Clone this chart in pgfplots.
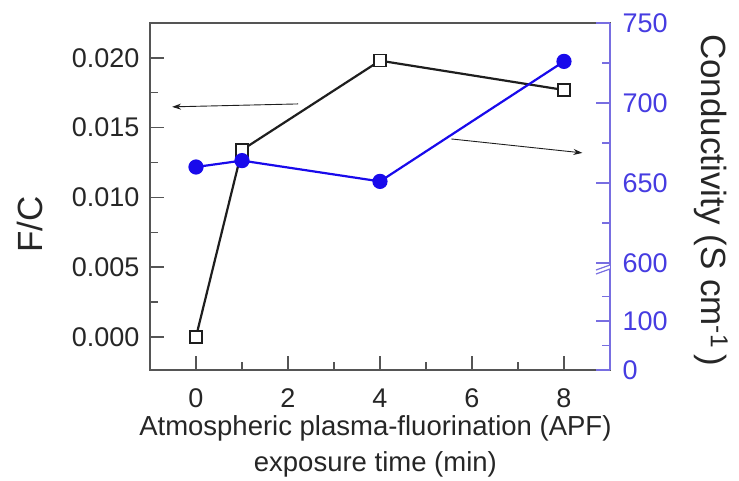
\documentclass[border=0pt]{standalone}
\usepackage{pgfplots}
\pgfplotsset{compat=1.18}
\usepackage{fontspec}
\setmainfont{Liberation Sans}
\usetikzlibrary{arrows.meta}
\definecolor{axgray}{RGB}{85,85,85}
\definecolor{fcblack}{RGB}{30,30,30}
\definecolor{condblue}{RGB}{25,10,235}
\definecolor{ticblue}{RGB}{70,60,225}
\definecolor{axblue}{RGB}{120,110,225}
\begin{document}
\begin{tikzpicture}
\useasboundingbox (-150pt,-110pt) rectangle (589pt,370pt);
\begin{axis}[
 scale only axis, width=460pt, height=347pt, at={(0,0)}, anchor=south west,
 xmin=-1, xmax=9, ymin=-0.00237, ymax=0.0225,
 xtick={0,2,4,6,8}, minor x tick num=1,
 ytick={0,0.005,0.01,0.015,0.02}, minor y tick num=1,
 xtick pos=bottom, ytick pos=left, tick align=inside,
 major tick length=14pt, minor tick length=8pt,
 axis line style={axgray, line width=1.4pt},
 every tick/.style={axgray, line width=1.4pt},
 ticklabel style={font=\fontsize{27}{30}\selectfont, text=black!85},
 xticklabel style={yshift=-15pt},
 yticklabel style={xshift=-7pt},
 /pgf/number format/assume math mode=true,
 scaled y ticks=false,
 yticklabel style={/pgf/number format/.cd, fixed, fixed zerofill, precision=3},
 xlabel={Atmospheric plasma-fluorination (APF)\\exposure time (min)},
 xlabel style={align=center, font=\fontsize{27.5}{36}\selectfont, text=black!85, inner sep=0pt,
   at={(axis description cs:0.49,0)}, anchor=north, yshift=-45pt},
 ylabel={F/C},
 ylabel style={font=\fontsize{35}{38}\selectfont, text=black!85, inner sep=0pt,
   at={(axis description cs:-0.26,0.42)}, anchor=center},
]
\addplot[fcblack, line width=2.2pt, mark=square*, mark size=6pt,
  mark options={fill=white, draw=fcblack, line width=1.2pt}]
  coordinates {(0,0.0000) (1,0.0134) (4,0.0198) (8,0.0177)};
\draw[-{Stealth[length=9pt,width=6pt]}, line width=0.9pt, fcblack]
  (axis cs:2.22,0.0167) -- (axis cs:-0.52,0.01649);
\draw[-{Stealth[length=9pt,width=6pt]}, line width=0.9pt, fcblack]
  (axis cs:5.55,0.01419) -- (axis cs:8.4,0.01319);
\end{axis}
\begin{axis}[
 scale only axis, width=460pt, height=347pt, at={(0,0)}, anchor=south west,
 xmin=-1, xmax=9, ymin=0, ymax=347,
 axis x line=none, axis y line*=right,
 ytick={0,49,107,187,267,347}, yticklabels={0,100,600,650,700,750},
 minor ytick={24.5,73.5,147,227,307},
 tick align=inside, major tick length=14pt, minor tick length=8pt,
 y axis line style={axblue, line width=1.4pt, -},
 every tick/.style={axblue, line width=1.4pt},
 yticklabel style={font=\fontsize{27}{30}\selectfont, text=ticblue, xshift=9pt},
 ylabel={Conductivity (S cm\textsuperscript{-1}\,)},
 ylabel style={font=\fontsize{35}{38}\selectfont, text=black!85, inner sep=0pt,
   at={(axis description cs:1.22,0.49)}, anchor=center, rotate=180},
]
\addplot[condblue, line width=2.2pt, mark=*, mark size=6.5pt,
  mark options={fill=condblue, draw=condblue}]
  table[y expr={107+(\thisrow{c}-600)*1.6}] {
  t c
  0 660
  1 664
  4 651
  8 726
};
\fill[white] ([shift={(-14pt,-7pt)}]axis cs:9,103) -- ([shift={(14pt,3pt)}]axis cs:9,103)
  -- ([shift={(14pt,7pt)}]axis cs:9,103) -- ([shift={(-14pt,-3pt)}]axis cs:9,103) -- cycle;
\draw[axblue, line width=1.2pt] ([shift={(-14pt,-7pt)}]axis cs:9,103) -- ([shift={(14pt,3pt)}]axis cs:9,103);
\draw[axblue, line width=1.2pt] ([shift={(-14pt,-3pt)}]axis cs:9,103) -- ([shift={(14pt,7pt)}]axis cs:9,103);
\end{axis}
\end{tikzpicture}
\end{document}
